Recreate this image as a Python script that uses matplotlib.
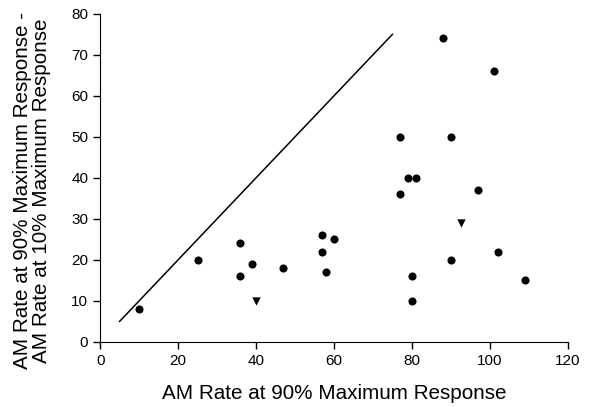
import numpy as np
import matplotlib.pyplot as plt

plt.rcParams['font.family'] = ['Liberation Sans', 'DejaVu Sans']

# units with circle markers
circ_x = [10, 25, 36, 36, 39, 47, 57, 57, 58, 60, 77, 77, 79, 81, 80, 80, 88, 90, 90, 97, 101, 102, 109]
circ_y = [8, 20, 24, 16, 19, 18, 26, 22, 17, 25, 50, 36, 40, 40, 16, 10, 74, 50, 20, 37, 66, 22, 15]
# units with triangle markers
tri_x = [40, 92.5]
tri_y = [10, 29]
# unity line
line_x = [5, 75]
line_y = [5, 75]

fig = plt.figure(figsize=(5.89, 4.07), dpi=100)
ax = fig.add_axes([0.170, 0.160, 0.794, 0.806])
ax.plot(line_x, line_y, c='k', linewidth=1.1)
ax.scatter(circ_x, circ_y, s=34, c='k', marker='o', linewidths=0)
ax.scatter(tri_x, tri_y, s=36, c='k', marker='v', linewidths=0)

ax.set_xlim(0, 120)
ax.set_ylim(0, 80)
ax.set_xticks(np.arange(0, 121, 20))
ax.set_yticks(np.arange(0, 81, 10))
ax.spines['top'].set_visible(False)
ax.spines['right'].set_visible(False)
ax.tick_params(direction='out', length=5, width=1, labelsize=11)
ax.set_xlabel('AM Rate at 90% Maximum Response', fontsize=14.9)
ax.set_ylabel('AM Rate at 90% Maximum Response -\nAM Rate at 10% Maximum Response',
              fontsize=14.9, linespacing=1.0)
ax.xaxis.set_label_coords(0.5, -0.128)
ax.yaxis.set_label_coords(-0.104, 0.46)
plt.savefig('out.png', dpi=100)
